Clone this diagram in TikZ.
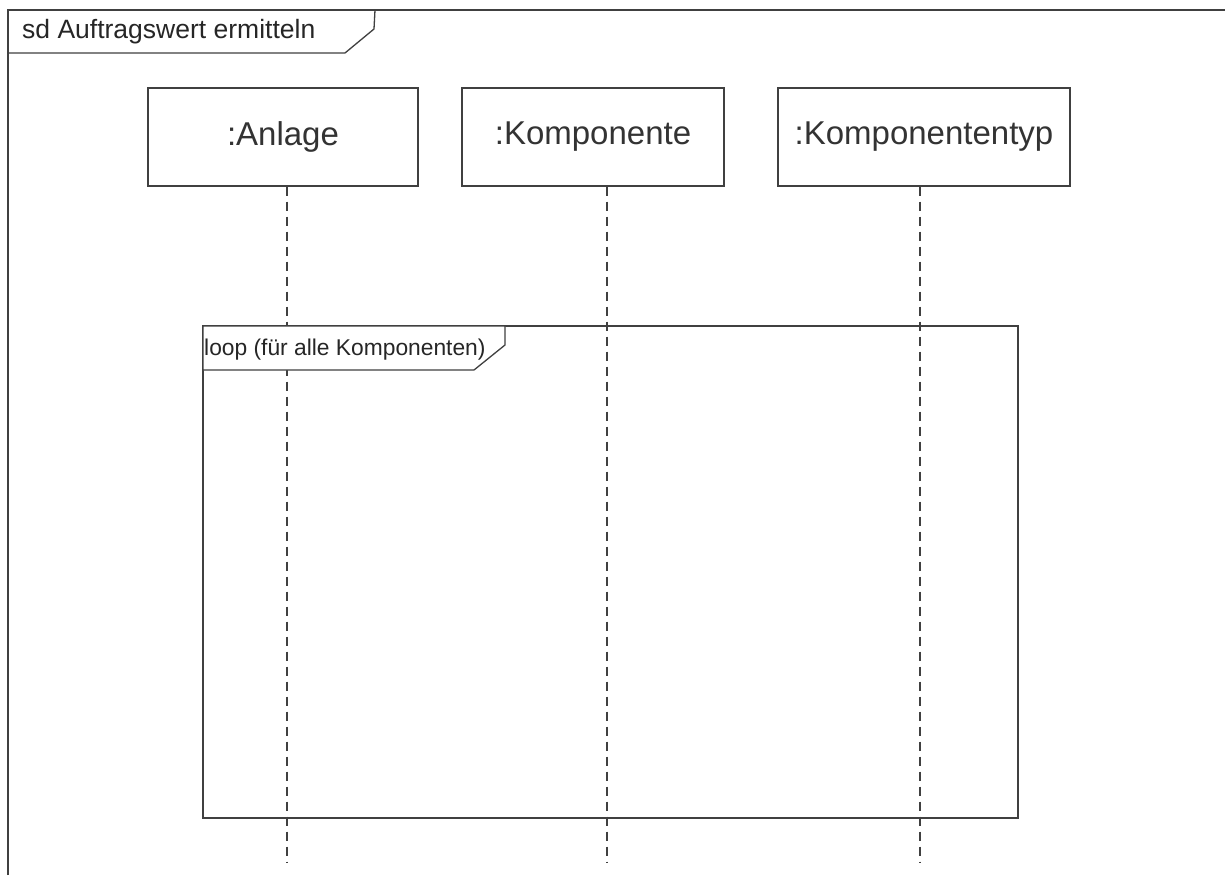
\documentclass[tikz,border=0pt]{standalone}
\usepackage{fontspec}
\setmainfont{Liberation Sans}
\begin{document}
\begin{tikzpicture}[x=1pt,y=-1pt,
  line/.style={draw=black!75, line width=1.3pt},
  lifebox/.style={line, rectangle, minimum width=#1, minimum height=98pt,
    inner sep=0pt, font=\fontsize{33}{38}\selectfont, text=black!80},
  lifeline/.style={draw=black!75, line width=1.1pt, dash pattern=on 9pt off 6pt},
  tag/.style={anchor=west, inner sep=0pt, text=black!85}]
\useasboundingbox (0,0) rectangle (1225,875);
\fill[white] (0,0) rectangle (1225,875);

% outer sequence diagram frame and its name tag
\draw[line] (8,875) -- (8,10) -- (1225,10);
\draw[line] (375,10) -- (374,29) -- (345,53) -- (8,53);
\node[tag, font=\fontsize{26.5}{31}\selectfont] (title) at (22,32) {sd Auftragswert ermitteln};

% participants
\node[lifebox=270pt] (anlage) at (283,137) {:Anlage};
\node[lifebox=262pt] (komp) at (593,137) {:Komponente};
\node[lifebox=292pt] (typ) at (924,137) {:Komponententyp};

\coordinate (anlageEnd) at (287,863);
\coordinate (kompEnd) at (607,863);
\coordinate (typEnd) at (920,863);
\draw[lifeline] (anlage.south -| anlageEnd) -- (anlageEnd);
\draw[lifeline] (komp.south -| kompEnd) -- (kompEnd);
\draw[lifeline] (typ.south -| typEnd) -- (typEnd);

% loop combined fragment; its tag is opaque over the lifelines
\draw[line] (203,326) rectangle (1018,818);
\filldraw[line, fill=white] (203,326) -- (505,326) -- (505,345) -- (474,370) -- (203,370) -- cycle;
\node[tag, font=\fontsize{22.8}{27}\selectfont] (loop) at (204,350) {loop (für alle Komponenten)};
\end{tikzpicture}
\end{document}
